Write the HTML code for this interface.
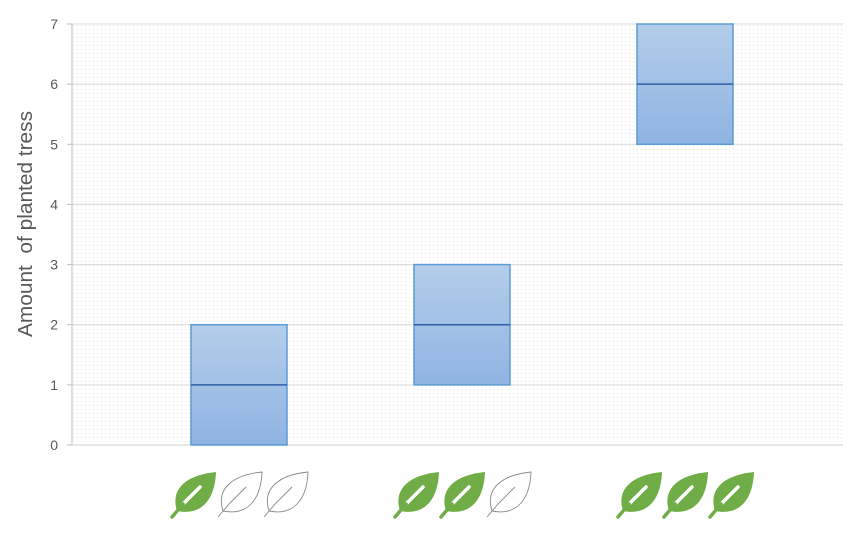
<!DOCTYPE html>
<html><head><meta charset="utf-8">
<style>
body{margin:0;background:#fff;width:859px;height:528px;overflow:hidden;font-family:"Liberation Sans",sans-serif;}
</style></head>
<body>
<svg id="chart" width="859" height="528" xmlns="http://www.w3.org/2000/svg">
<defs>
<pattern id="dots" width="4" height="4" patternUnits="userSpaceOnUse"><rect width="4" height="4" fill="#fff"/><rect x="1" y="1" width="1" height="1" fill="#e4e4e4"/></pattern>
<linearGradient id="boxg" x1="0" y1="0" x2="0" y2="1"><stop offset="0" stop-color="#b4cdea"/><stop offset="1" stop-color="#8fb4e3"/></linearGradient>
</defs>
<rect x="72" y="24" width="771" height="421" fill="url(#dots)"/>
<g id="grid"></g>
<g id="boxes"></g>
<g id="leaves"></g>
<text xml:space="preserve" transform="translate(32,224) rotate(-90)" text-anchor="middle" font-size="20" textLength="226" lengthAdjust="spacingAndGlyphs" fill="#595959">Amount  of planted tress</text>
</svg>
<script>
const categories=["1 leaf","2 leaves","3 leaves"];
const lows=[0,1,5];
const mids=[1,2,6];
const highs=[2,3,7];
const leafCounts=[1,2,3];
const yTicks=[0,1,2,3,4,5,6,7];
const NS="http://www.w3.org/2000/svg";
const y=v=>445-v*(421/7);
const xc=i=>239+i*223;
function mk(t,a,p){const e=document.createElementNS(NS,t);for(const k in a)e.setAttribute(k,a[k]);p.appendChild(e);return e;}
const grid=document.getElementById('grid');
yTicks.forEach(t=>{
 const l=mk('line',{x1:72,x2:843,y1:y(t),y2:y(t),stroke:t===0?'#d0d0d0':'#d9d9d9','stroke-width':1},grid);
 
 
 const tk=mk('line',{x1:67,x2:72,y1:y(t),y2:y(t),stroke:'#bfbfbf'},grid);
 
 
 const tx=mk('text',{x:58,y:y(t)+5,'text-anchor':'end','font-size':14,fill:'#595959'},grid);
 tx.textContent=t;
 
 
});
const ax=mk('line',{x1:72,x2:72,y1:24,y2:445,stroke:'#bfbfbf'},grid);


const boxes=document.getElementById('boxes');
categories.forEach((c,i)=>{
 const x=xc(i)-48;
 const r=mk('rect',{x:x,y:y(highs[i]),width:96,height:y(lows[i])-y(highs[i]),fill:'url(#boxg)',stroke:'#5b9bd5','stroke-width':1.5},boxes);
 
 
 const m=mk('line',{x1:x,x2:x+96,y1:y(mids[i]),y2:y(mids[i]),stroke:'#2f5fa8','stroke-width':1.5},boxes);
 
 
});
const leaves=document.getElementById('leaves');
const body="M7,40 C0,18 16,4 46,1 C45,28 32,45 7,40 Z";
categories.forEach((c,i)=>{
 for(let k=0;k<3;k++){
  const g=mk('g',{transform:`translate(${xc(i)-69+k*46},471)`},leaves);
  
  
  const filled=k<leafCounts[i];
  if(filled){
   mk('path',{d:body,fill:'#70ad47'},g);
   mk('path',{d:"M30,16 L13,33",stroke:'#fff','stroke-width':3.5,'stroke-linecap':'round'},g);
   mk('path',{d:"M13,33 L2,46",stroke:'#70ad47','stroke-width':3.5,'stroke-linecap':'round'},g);
  }else{
   mk('path',{d:body,fill:'none',stroke:'#8a8a8a','stroke-width':0.9},g);
   mk('path',{d:"M30,16 L13,33 L2,46",fill:'none',stroke:'#8a8a8a','stroke-width':0.9},g);
  }
 }
});
</script>
</body></html>
